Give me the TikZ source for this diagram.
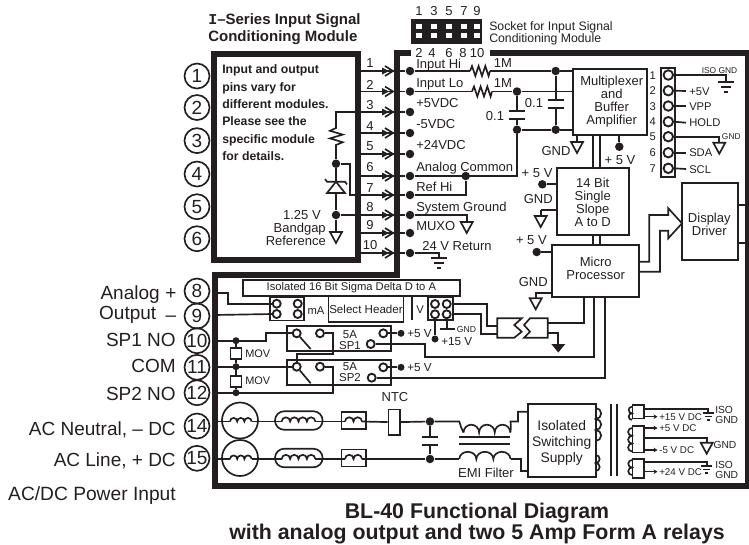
\documentclass[tikz,border=0pt]{standalone}
\usepackage{fontspec}
\setmainfont{Liberation Sans}
\setmonofont{Liberation Mono}
\usetikzlibrary{arrows.meta}
\definecolor{ink}{HTML}{231F20}
\newcommand{\fz}[1]{\fontsize{#1}{#1}\selectfont}
\def\px{0.75pt}
\tikzset{
  heavy/.style={line width=4.5pt},
  wire/.style={line width=1.25pt},
  fine/.style={line width=0.9pt},
  dot/.style={circle,fill,inner sep=0pt,minimum size=8.5*\px},
  smalldot/.style={circle,fill,inner sep=0pt,minimum size=7*\px},
  term/.style={circle,draw,line width=1.25pt,minimum size=25*\px,inner sep=0pt,font=\fz{14.25}},
  pad/.style={circle,draw,line width=1.4pt,fill=white,inner sep=0pt,minimum size=#1*\px},
  pad/.default=8,
  lbl/.style={inner sep=0pt,font=\fz{#1},text height=.72*#1pt,text depth=0pt},
  lbl/.default=9.75,
  mtext/.style={inner sep=0pt,align=center,font=\fz{#1}},
  mtext/.default=9.75,
  boxn/.style 2 args={draw,line width=1.6pt,inner sep=0pt,minimum width=#1*\px,minimum height=#2*\px},
  thinbox/.style 2 args={draw,line width=1.25pt,inner sep=0pt,minimum width=#1*\px,minimum height=#2*\px},
  pics/gndtri/.style={code={\draw[wire] (-6,0) -- (6,0) -- (0,11) -- cycle;}},
  pics/gndfill/.style={code={\fill (-7,0) -- (7,0) -- (0,8.5) -- cycle;}},
  pics/earth/.style={code={
    \draw[wire] (-8,0) -- (8,0) (-5,5) -- (5,5) (-2,10) -- (2,10);}},
  pics/zigh/.style={code={
    \draw[wire] (0,0) -- (2,-5) -- (5.3,5) -- (8.6,-5) -- (12,5) -- (15.3,-5) -- (18.6,5) -- (20,0);}},
  pics/humps/.style={code={
    \draw[wire] (0,0) \foreach \i in {1,...,#1}{arc (180:360:3)};}},
  pics/capn/.style={code={
    \draw[line width=1.5pt] (-8,0) -- (8,0) (-8,8) -- (8,8);}},
  pics/pinarr/.style={code={
    \fill (-11,-3.5) -- (-4,0) -- (-11,3.5) -- cycle;
    \draw[wire] (-8,-5) -- (0,0) -- (-8,5);}},
}
\begin{document}
\begin{tikzpicture}[x=0.75pt,y=-0.75pt,color=ink,text=ink]
  \useasboundingbox (0,0) rectangle (749,544);
  % outlines
  \node[draw,heavy,inner sep=0pt,minimum width=144*\px,minimum height=206*\px] (module) at (286,157) {};
  \draw[heavy] (411,53) -- (397,53) -- (397,275) -- (214.5,275) -- (214.5,485.5)
    -- (747.5,485.5) -- (747.5,53) -- (490,53);
  % titles
  \node[lbl=11.25,anchor=west,font=\fz{11.25}\bfseries] (title1) at (208,19) {{\ttfamily I}–Series Input Signal};
  \node[lbl=11.25,anchor=west,font=\fz{11.25}\bfseries] (title2) at (208,36) {Conditioning Module};
  \node[lbl=16,font=\fz{16}\bfseries] (foot1) at (477,511) {BL-40 Functional Diagram};
  \node[lbl=16,font=\fz{16}\bfseries] (foot2) at (477,532) {with analog output and two 5 Amp Form A relays};
  \foreach \i/\y/\t in {1/69/Input and output,2/87/pins vary for,3/104/different modules.,4/121/Please see the,5/139/specific module,6/156/for details.}{
    \node[lbl=9.2,anchor=west,font=\fz{9.2}\bfseries] (note\i) at (222,\y) {\t};
  }
  % terminals
  \foreach \n/\y in {1/76,2/107.5,3/140.6,4/174,5/206.7,6/238.7,8/291,9/316,10/340.7,11/367.3,12/392.7,14/426,15/458.3}{
    \node[term] (t\n) at (197,\y) {\n};
  }
  \node[lbl=14.25,anchor=east] (aout1) at (160,292.5) {Analog};
  \node[lbl=14.25,anchor=east] (aout2) at (156.5,312.5) {Output};
  \node[lbl=14.25] (aplus) at (171,292.5) {+};
  \node[lbl=14.25] (aminus) at (171,315) {–};
  \node[lbl=14.25,anchor=east] (lsp1) at (176,340) {SP1 NO};
  \node[lbl=14.25,anchor=east] (lcom) at (176,366) {COM};
  \node[lbl=14.25,anchor=east] (lsp2) at (176,394) {SP2 NO};
  \node[lbl=14.25,anchor=east] (lacn) at (176,428.3) {AC Neutral, – DC};
  \node[lbl=14.25,anchor=east] (lacl) at (176,460) {AC Line, + DC};
  \node[lbl=14.4,anchor=east] (lacdc) at (176,493.5) {AC/DC Power Input};
  % socket
  \node[fill,inner sep=0pt,minimum width=71.3*\px,minimum height=25*\px] (socket) at (446.7,31.5) {};
  \foreach \i/\x in {1/419,3/434,5/449,7/464,9/477}{
    \node[lbl] (top\i) at (\x,11) {\i};
    \node[fill=white,inner sep=0pt,minimum width=6*\px,minimum height=5*\px] (ha\i) at (\x,26) {};
    \node[fill=white,inner sep=0pt,minimum width=6*\px,minimum height=5*\px] (hb\i) at (\x,35.7) {};
  }
  \foreach \i/\x in {2/419,4/432,6/449,8/463,10/477}{
    \node[lbl] (bot\i) at (\x,52.7) {\i};
  }
  \node[lbl=9.2,anchor=west] (sock1) at (489,26) {Socket for Input Signal};
  \node[lbl=9.2,anchor=west] (sock2) at (489,38) {Conditioning Module};
  % module pins
  \foreach \n/\y/\ty in {1/71/63,2/91.5/85,3/112/105,4/133/126,5/154/146,6/176/167,7/195/188,8/215/207,9/233/225,10/253/245}{
    \coordinate (m\n) at (358,\y);
    \node[dot] (p\n) at (410,\y) {};
    \node[lbl] (num\n) at (370,\ty) {\n};
    \draw[wire] (m\n) -- (p\n);
    \pic at (393,\y) {pinarr};
  }
  \foreach \i/\y/\t in {1/64/Input Hi,2/83/Input Lo,3/103/+5VDC,4/124/-5VDC,5/145/+24VDC,6/167/Analog Common,7/187/Ref Hi,8/207/System Ground,9/226/MUXO}{
    \node[lbl,anchor=west] (pl\i) at (416,\y) {\t};
  }
  \node[lbl,anchor=west] (pl10) at (422,246) {24 V Return};
  % inside of the module
  \coordinate (rtop) at (336,125);
  \coordinate (rbot) at (336,148);
  \node[dot] (dA) at (336,163.7) {};
  \node[dot] (dB) at (336,215) {};
  \coordinate (kA) at (350,163.7);
  \coordinate (gm) at (336,232);
  \draw[wire] (p3) -| (rtop);
  \draw[wire] (rtop) -- (336,128) -- (330,130.8) -- (342.7,134.6) -- (330,138.4) -- (342.7,142.2) -- (336,145) -- (rbot);
  \draw[wire] (rbot) -- (dA) -- (dB) -- (gm);
  \draw[wire] (dA) -- (kA) |- (p7);
  \draw[wire] (dB) -- (p8);
  \pic at (gm) {gndtri};
  \draw[wire,fill=white] (327,193) -- (345,193) -- (336,181.7) -- cycle;
  \draw[wire] (325,179) -- (327,181.7) -- (345,181.7) -- (347,184.4);
  \node[lbl,anchor=east] (bg1) at (321,215) {1.25 V};
  \node[lbl,anchor=east] (bg2) at (326,228) {Bandgap};
  \node[lbl,anchor=east] (bg3) at (326,240.6) {Reference};
  % input network
  \node[boxn={73.4}{66}] (mux) at (610,102) {};
  \node[mtext] (muxt) at (611.7,102) {Multiplexer\\and\\Buffer\\Amplifier};
  \coordinate (r1a) at (470,71);
  \coordinate (r1b) at (490,71);
  \coordinate (r2a) at (472,91.5);
  \coordinate (r2b) at (492,91.5);
  \pic at (r1a) {zigh};
  \pic at (r2a) {zigh};
  \node[lbl] (m1) at (503,63) {1M};
  \node[lbl] (m2) at (503,83) {1M};
  \node[dot] (dC1) at (555.7,71) {};
  \node[dot] (dC2) at (555.7,129.7) {};
  \node[dot] (dL1) at (517,91.5) {};
  \node[dot] (dL2) at (517,129.7) {};
  \node[dot] (dRef) at (465.7,176) {};
  \coordinate (cC) at (555.7,100);
  \coordinate (cL) at (517,111);
  \draw[wire] (p1) -- (r1a);
  \draw[wire] (r1b) -- (dC1) -- (dC1 -| mux.west);
  \draw[wire] (p2) -- (r2a);
  \draw[wire] (r2b) -- (dL1) -- (dL1 -| mux.west);
  \draw[wire] (dL1) -- (cL);
  \draw[wire] (dC1) -- (cC);
  \draw[wire] (517,119) -- (dL2);
  \draw[wire] (555.7,108) -- (dC2);
  \draw[wire] (dL2) -- (dC2) -- (dC2 -| mux.west);
  \draw[wire] (dL2) |- (p6);
  \draw[wire] (p7) -| (dRef);
  \pic at (cC) {capn};
  \pic at (cL) {capn};
  \node[lbl] (cap1) at (534,103) {0.1};
  \node[lbl] (cap2) at (495,116) {0.1};
  \coordinate (gs) at (466.7,222);
  \coordinate (ge) at (439,258);
  \draw[wire] (p8) -| (gs);
  \draw[wire] (p10) -| (ge);
  \pic at (gs) {gndtri};
  \pic at (ge) {earth};
  % converter and processor
  \node[boxn={72.6}{66.7}] (adc) at (593,201.7) {};
  \node[mtext] (adct) at (592.7,202.4) {14 Bit\\Single\\Slope\\A to D};
  \node[boxn={87.6}{52.3}] (micro) at (595.5,271.2) {};
  \node[mtext] (microt) at (595.7,268.4) {Micro\\Processor};
  \node[boxn={55.4}{77.3}] (display) at (710,221.4) {};
  \node[mtext] (displayt) at (709.3,224.2) {Display\\Driver};
  \foreach \x in {593.3,600}{
    \draw[wire] (\x,135) -- (\x,168.3);
    \draw[wire] (\x,235) -- (\x,245);
  }
  \coordinate (gmux) at (577,142);
  \coordinate (gadc) at (540.7,216);
  \coordinate (gmic) at (535.7,298.3);
  \draw[wire] (gmux |- mux.south) -- (gmux);
  \pic at (gmux) {gndtri};
  \node[lbl,anchor=east] (gndmux) at (570.7,150.7) {GND};
  \node[dot] (v5a) at (619.3,146.7) {};
  \draw[wire] (v5a) -- (v5a |- mux.south);
  \node[lbl] (v5at) at (620,160) {+ 5 V};
  \node[lbl,anchor=east] (v5bt) at (552.7,172.7) {+ 5 V};
  \node[dot] (v5b) at (542.3,184.3) {};
  \draw[wire] (v5b) -- (v5b -| adc.west);
  \node[lbl,anchor=east] (gndadc) at (553,199.3) {GND};
  \draw[wire] (gadc |- 0,210) -- (556.7,210);
  \draw[wire] (gadc |- 0,210) -- (gadc);
  \pic at (gadc) {gndtri};
  \node[lbl,anchor=east] (v5ct) at (547,240) {+ 5 V};
  \node[dot] (v5c) at (536.7,252) {};
  \draw[wire] (v5c) -- (v5c -| micro.west);
  \node[lbl,anchor=east] (gndmic) at (548,281.7) {GND};
  \draw[wire] (micro.west |- 0,292.7) -| (gmic);
  \pic at (gmic) {gndtri};
  % hollow bus
  \draw[wire] (639.3,261.7) -- (649.3,261.7) -- (649.3,215) -- (668.3,215) -- (668.3,208.3)
    -- (682,223.3) -- (668.3,238.3) -- (668.3,230.7) -- (660,230.7) -- (660,271.7) -- (639.3,271.7);
  \draw[wire] (display.east |- 0,205) -- (745,205);
  \draw[wire] (display.east |- 0,243.3) -- (745,243.3);
  % jumper header
  \node[thinbox={14}{109}] (hdr) at (668.3,122.2) {};
  \foreach \n/\y in {1/75,2/90.7,3/106,4/121.7,5/136.7,6/152.7,7/168.3}{
    \node[pad=9.5] (j\n) at (668.3,\y) {};
    \node[lbl=8.4] (jn\n) at (652.7,\y) {\n};
  }
  \foreach \n/\y/\t in {2/91/+5V,3/106/VPP,4/122.7/HOLD,6/152.7/SDA,7/169/SCL}{
    \coordinate (je\n) at (686,\y);
    \draw[wire] (j\n.east) -- (je\n);
    \node[lbl=8.4,anchor=west] (jt\n) at (689,\y) {\t};
  }
  \coordinate (gj1) at (726,82.3);
  \coordinate (gj5) at (719.3,142.7);
  \draw[wire] (j1.east) -| (gj1);
  \draw[wire] (j5.east) -| (gj5);
  \pic[scale=1] at (gj1) {earth};
  \pic at (gj5) {gndtri};
  \node[lbl=6.3] (isoa) at (719.5,70) {ISO GND};
  \node[lbl=6.3,anchor=west] (gndj) at (721.7,136.7) {GND};
  % output board
  \node[thinbox={217.3}{16},font=\fz{8.4}] (iso) at (351.4,287.9) {Isolated 16 Bit Sigma Delta D to A};
  \node[thinbox={75}{26},font=\fz{8.7}] (select) at (366,309) {Select Header};
  \node[lbl=8.4] (mat) at (316,310) {mA};
  \node[lbl=8.4] (vt) at (420,309) {V};
  \coordinate (vtick) at (411.7,320);
  \draw[wire] (vtick |- iso.south) -- (vtick);
  \node[thinbox={34}{23}] (hl) at (287,309) {};
  \node[thinbox={24.4}{23}] (hr) at (440.5,308.6) {};
  \node[pad] (a1) at (276.7,303.7) {};
  \node[pad] (a2) at (297.7,303.7) {};
  \node[pad] (a3) at (276.7,314) {};
  \node[pad] (a4) at (297.7,314) {};
  \node[pad] (v1) at (435,304) {};
  \node[pad] (v2) at (446.7,304) {};
  \node[pad] (v3) at (435,314.3) {};
  \node[pad] (v4) at (446.7,314.3) {};
  \coordinate (bw8) at (214.5,293);
  \coordinate (k8) at (228.3,293);
  \coordinate (bw9) at (214.5,315);
  \draw[wire] (bw8) -- (k8) |- (a1.west);
  \draw[wire] (bw9) -- (a3.west);
  \coordinate (kv1) at (486.7,304);
  \coordinate (kv2) at (480.7,314.3);
  \coordinate (opL1) at (498.3,325.7);
  \coordinate (opL2) at (498.3,334.3);
  \coordinate (opR1) at (547.7,323.3);
  \coordinate (opR2) at (547.7,332.7);
  \draw[wire] (v2.east) -- (kv1) |- (opL1);
  \draw[wire] (v4.east) -- (kv2) |- (opL2);
  \node[smalldot] (v15) at (435,339) {};
  \draw[wire] (v3.south) -- (v15);
  \node[lbl=8.8,anchor=west] (v15t) at (441,341) {+15 V};
  \coordinate (gt) at (446.7,329);
  \draw[wire] (v4.south) -- (gt);
  \draw[wire] (440,329) -- (455,329);
  \node[lbl=6.5,anchor=west] (gtt) at (456.7,329) {GND};
  % opto coupler
  \draw[wire] (497.3,318.3) -- (521.7,318.3) -- (514.3,325) -- (521.7,331.7) -- (514.3,337.7) -- (497.3,337.7) -- cycle;
  \draw[wire] (530,318.3) -- (524,325) -- (530,331.7) -- (524,337.7) -- (547.7,337.7) -- (547.7,318.3) -- cycle;
  \coordinate (mS1) at (584.3,297.3);
  \coordinate (mS2) at (594,297.3);
  \coordinate (mS3) at (605,297.3);
  \coordinate (gf) at (558.3,344);
  \draw[wire] (opR1) -| (mS1);
  \draw[wire] (opR2) -| (gf);
  \pic at (gf) {gndfill};
  % relays
  \node[boxn={104}{25}] (relay1) at (338.8,338.5) {};
  \node[boxn={104}{25}] (relay2) at (338.8,372.5) {};
  \node[pad] (s1a) at (296.7,333.3) {};
  \node[pad] (s1c) at (320,333.3) {};
  \node[pad] (s1d) at (383.3,333.3) {};
  \node[pad] (s1b) at (370.7,344) {};
  \node[pad] (s2a) at (296.7,366.7) {};
  \node[pad] (s2c) at (320,366.7) {};
  \node[pad] (s2d) at (383.3,367.3) {};
  \node[pad] (s2b) at (371.7,377.7) {};
  \coordinate (arm1) at (310.7,349);
  \coordinate (arm2) at (310.7,383.3);
  \draw[wire] (s1a) -- (arm1);
  \draw[wire] (s2a) -- (arm2);
  \node[lbl=8.6] (fa1) at (350,334) {5A};
  \node[lbl=8.6] (sp1) at (350,345) {SP1};
  \node[lbl=8.6] (fa2) at (350,366.7) {5A};
  \node[lbl=8.6] (sp2) at (350,377.3) {SP2};
  \node[smalldot] (dv1) at (401,333.3) {};
  \node[smalldot] (dv2) at (401,367.3) {};
  \draw[wire] (s1d.east) -- (dv1);
  \draw[wire] (s2d.east) -- (dv2);
  \node[lbl=8.8,anchor=west] (dv1t) at (407,333) {+5 V};
  \node[lbl=8.8,anchor=west] (dv2t) at (407,367) {+5 V};
  \coordinate (kb) at (425,357.3);
  \draw[wire] (mS2) |- (kb) |- (s1b.east);
  \draw[wire] (mS3) |- (s2b.east);
  \coordinate (bw10) at (214.5,340.7);
  \coordinate (bw11) at (214.5,366.7);
  \coordinate (bw12) at (214.5,392.7);
  \coordinate (k10) at (265.7,340.7);
  \coordinate (k11) at (332.7,354.3);
  \coordinate (k12) at (332.7,366.7);
  \draw[wire] (bw10) -- (k10) |- (s1a.west);
  \draw[wire] (bw11) -- (s2a.west);
  \draw[wire] (bw12) -| (k12) -- (s2c.east);
  \draw[wire] (s1c.east) -| (k11) -| (s2a.north);
  \node[smalldot] (dm1) at (236,340.7) {};
  \node[smalldot] (dm2) at (236,366.7) {};
  \node[smalldot] (dm3) at (236,392.7) {};
  \node[thinbox={11}{11}] (mov1) at (236,353.7) {};
  \node[thinbox={11}{11}] (mov2) at (236,381.2) {};
  \draw[wire] (dm1) -- (mov1) -- (dm2) -- (mov2) -- (dm3);
  \node[lbl=8.2,anchor=west] (mt1) at (245,354) {MOV};
  \node[lbl=8.2,anchor=west] (mt2) at (245,380.7) {MOV};
  % power input
  \foreach \r/\y in {14/421.5,15/459}{
    \coordinate (bw\r) at (214.5,\y);
    \node[draw,wire,circle,inner sep=0pt,minimum size=36*\px] (line\r) at (240,\y-1) {};
    \node[draw,wire,inner sep=0pt,rounded corners=7pt,minimum width=47.7*\px,minimum height=18.6*\px] (pill\r) at (298.8,\y-1) {};
    \node[thinbox={24.3}{17.3}] (fuse\r) at (353.8,\y-1) {};
    \coordinate (ca\r) at (230,\y);
    \coordinate (cb\r) at (251.6,\y);
    \coordinate (cc\r) at (281.7,\y);
    \coordinate (cd\r) at (315.3,\y);
    \coordinate (ce\r) at (345,\y);
    \coordinate (cf\r) at (362,\y);
    \pic[scale=1.2] at (ca\r) {humps=3};
    \pic[scale=1.4] at (cc\r) {humps=4};
    \pic[scale=1.417] at (ce\r) {humps=2};
    \draw[wire] (bw\r) -- (ca\r);
    \draw[wire] (cb\r) -- (cc\r);
    \draw[wire] (cd\r) -- (ce\r);
  }
  \node[thinbox={11.7}{25.7}] (ntc) at (394.2,422.2) {};
  \node[lbl] (ntct) at (395,397) {NTC};
  \node[dot] (dP1) at (430,421.5) {};
  \node[dot] (dP2) at (430,459) {};
  \coordinate (cP) at (430,437);
  \draw[wire] (cf14) -- (ntc);
  \draw[wire] (ntc) -- (dP1);
  \draw[wire] (cf15) -- (dP2);
  \draw[wire] (dP1) -- (cP);
  \draw[wire] (430,445) -- (dP2);
  \pic at (cP) {capn};
  % emi filter
  \coordinate (ea) at (459.3,421.5);
  \coordinate (eb) at (510.5,421.5);
  \coordinate (ec) at (459.3,459);
  \coordinate (ed) at (510.5,459);
  \coordinate (ka) at (518,411.7);
  \coordinate (kc) at (521,470.7);
  \node[boxn={67.4}{72.7}] (supply) at (562,440.3) {};
  \node[mtext=10.4] (supplyt) at (561.7,442.7) {Isolated\\[1.6pt]Switching\\[1.6pt]Supply};
  \draw[wire] (dP1) -- (ea) .. controls (461,427) and (462,430) .. (463.5,432.5);
  \pic[scale=2.6] at (463.5,432.5) {humps=3};
  \draw[wire] (510.3,432.5) .. controls (511,428) .. (eb) -| (ka) -- (supply.west |- ka);
  \draw[wire] (dP2) -- (ec);
  \pic[xscale=2.84,yscale=2.4] at (ec) {humps=3};
  \draw[wire] (ed) -| (kc) -- (supply.west |- kc);
  \draw[line width=1.5pt] (459.3,437.3) -- (510,437.3) (459.3,444.3) -- (510,444.3);
  \node[lbl] (emit) at (486,472.7) {EMI Filter};
  % transformer
  \pic[rotate=-90,scale=1.83] at (595.7,408) {humps=3};
  \pic[rotate=-90,scale=1.33] at (595.7,455) {humps=2};
  \draw[line width=1.5pt] (610.7,404) -- (610.7,476) (617.3,404) -- (617.3,476);
  \node[thinbox={11.7}{13.3}] (reg1) at (638.2,411.7) {};
  \node[thinbox={11.7}{26.3}] (reg2) at (638.2,439.2) {};
  \node[thinbox={11.7}{19}] (reg3) at (638.2,468.8) {};
  \pic[rotate=-90,yscale=-1,scale=1.1] at (632,406.7) {humps=2};
  \pic[rotate=-90,yscale=-1,scale=1.3] at (632,428) {humps=3};
  \pic[rotate=-90,yscale=-1,scale=1.25] at (632,460) {humps=2};
  \coordinate (o1) at (644,409);
  \coordinate (o2) at (644,438.3);
  \coordinate (o3) at (644,462.3);
  \coordinate (g1) at (708.3,413);
  \coordinate (g2) at (706.7,442.7);
  \coordinate (g3) at (706.7,466);
  \draw[wire] (o1) -| (g1);
  \draw[wire] (o2) -| (g2);
  \draw[wire] (o3) -| (g3);
  \pic[scale=.7] at (g1) {earth};
  \pic at (g2) {gndtri};
  \pic[scale=.7] at (g3) {earth};
  \foreach \i/\y/\t in {1/416.7/+15 V DC,2/428/+5 V DC,3/450/-5 V DC,4/471.7/+24 V DC}{
    \coordinate (oa\i) at (644,\y);
    \coordinate (ob\i) at (657.5,\y);
    \draw[fine,-{Stealth[length=3pt,width=3.5pt]}] (oa\i) -- (ob\i);
    \node[lbl=7.35,anchor=west] (ot\i) at (659,\y) {\t};
  }
  \node[lbl=7.7,anchor=west] (iso1) at (715,410) {ISO};
  \node[lbl=7.7,anchor=west] (iso2) at (715,420) {GND};
  \node[lbl=7.7,anchor=west] (iso3) at (713.3,444.3) {GND};
  \node[lbl=7.7,anchor=west] (iso4) at (715,465) {ISO};
  \node[lbl=7.7,anchor=west] (iso5) at (715,475) {GND};
\end{tikzpicture}
\end{document}
